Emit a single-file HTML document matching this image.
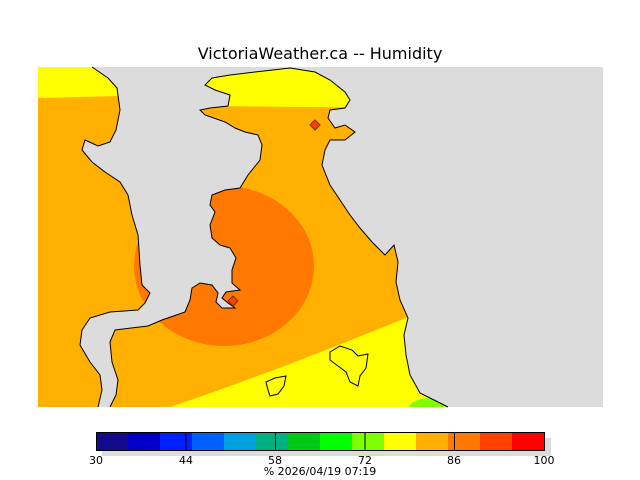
<!DOCTYPE html>
<html><head><style>
html,body{margin:0;padding:0;background:#fff;}
svg{display:block;font-family:"DejaVu Sans","Liberation Sans",sans-serif;}
</style></head><body>
<svg width="640" height="480" viewBox="0 0 640 480">
<defs>
<clipPath id="land">
<polygon id="w" points="38,67 92,67 108,78 117,88 120,110 116,130 110,142 98,146 85,140 82,150 92,162 105,172 120,182 128,195 132,215 138,235 140,265 142,285 150,293 145,303 138,310 110,312 90,318 82,330 80,345 90,362 100,375 102,390 98,407 38,407"/>
<polygon points="110,407 116,395 118,380 112,362 110,342 115,330 148,326 162,320 185,312 190,300 192,288 200,283 212,285 218,293 216,302 222,308 235,308 228,303 222,298 226,292 240,290 232,283 232,270 236,258 230,248 220,245 212,238 210,225 215,212 210,205 212,195 225,190 240,188 248,175 260,160 262,145 258,135 245,132 235,128 225,122 205,115 200,110 210,108 228,106 230,95 215,90 205,85 212,78 230,75 255,72 290,68 315,72 330,80 340,88 345,92 350,100 345,108 330,110 328,118 335,128 345,125 355,132 345,140 330,140 325,150 322,165 330,185 340,200 350,215 360,228 372,242 385,255 394,245 398,262 396,282 400,300 408,318 404,335 406,355 410,375 420,393 448,407"/>
</clipPath>
</defs>
<text x="320" y="59" text-anchor="middle" font-size="16" fill="#000">VictoriaWeather.ca -- Humidity</text>
<rect x="38" y="67" width="565" height="340" fill="#dcdcdc"/>
<g clip-path="url(#land)">
<rect x="38" y="67" width="565" height="340" fill="#ffb000"/>
<polygon points="38,67 420,67 420,108 200,106 120,96 38,98" fill="#ffff00"/>
<ellipse cx="224" cy="266" rx="90" ry="80" fill="#ff7800"/>
<path d="M170,407 Q280,370 420,312 L460,312 L460,407 Z" fill="#ffff00"/>
<ellipse cx="430" cy="410" rx="22" ry="12" fill="#80ff00"/>
</g>
<g fill="none" stroke="#000" stroke-width="1">
<polyline points="92,67 108,78 117,88 120,110 116,130 110,142 98,146 85,140 82,150 92,162 105,172 120,182 128,195 132,215 138,235 140,265 142,285 150,293 145,303 138,310 110,312 90,318 82,330 80,345 90,362 100,375 102,390 98,407"/>
<polyline points="110,407 116,395 118,380 112,362 110,342 115,330 148,326 162,320 185,312 190,300 192,288 200,283 212,285 218,293 216,302 222,308 235,308 228,303 222,298 226,292 240,290 232,283 232,270 236,258 230,248 220,245 212,238 210,225 215,212 210,205 212,195 225,190 240,188 248,175 260,160 262,145 258,135 245,132 235,128 225,122 205,115 200,110 210,108 228,106 230,95 215,90 205,85 212,78 230,75 255,72 290,68 315,72 330,80 340,88 345,92 350,100 345,108 330,110 328,118 335,128 345,125 355,132 345,140 330,140 325,150 322,165 330,185 340,200 350,215 360,228 372,242 385,255 394,245 398,262 396,282 400,300 408,318 404,335 406,355 410,375 420,393 448,407"/>
<polygon points="330,352 340,346 352,350 358,356 368,354 366,368 360,376 358,386 350,382 346,372 338,366 330,360" fill="#ffff00"/>
<polygon points="266,382 275,378 286,376 284,386 278,394 270,396 268,390" fill="#ffff00"/>
</g>
<polygon points="315,120 320,125 315,130 310,125" fill="#ff4000" stroke="#803000"/>
<polygon points="233,296 238,301 233,306 228,301" fill="#ff4000" stroke="#803000"/>
<rect x="102" y="438" width="449" height="18" fill="#dcdcdc"/>
<g>
<rect x="96" y="432" width="32" height="18" fill="#140a8c"/>
<rect x="128" y="432" width="32" height="18" fill="#0000c8"/>
<rect x="160" y="432" width="32" height="18" fill="#0020ff"/>
<rect x="192" y="432" width="32" height="18" fill="#0060ff"/>
<rect x="224" y="432" width="32" height="18" fill="#00a0e0"/>
<rect x="256" y="432" width="32" height="18" fill="#00b080"/>
<rect x="288" y="432" width="32" height="18" fill="#00c818"/>
<rect x="320" y="432" width="32" height="18" fill="#00ff00"/>
<rect x="352" y="432" width="32" height="18" fill="#80ff00"/>
<rect x="384" y="432" width="32" height="18" fill="#ffff00"/>
<rect x="416" y="432" width="32" height="18" fill="#ffb000"/>
<rect x="448" y="432" width="32" height="18" fill="#ff7800"/>
<rect x="480" y="432" width="32" height="18" fill="#ff4000"/>
<rect x="512" y="432" width="32" height="18" fill="#ff0000"/>
</g>
<rect x="96.5" y="432.5" width="448" height="18" fill="none" stroke="#000"/>
<g stroke="#000"><line x1="186" y1="432" x2="186" y2="450"/><line x1="275.5" y1="432" x2="275.5" y2="450"/><line x1="365" y1="432" x2="365" y2="450"/><line x1="454.5" y1="432" x2="454.5" y2="450"/></g>
<g font-size="11" text-anchor="middle" fill="#000">
<text x="96" y="464">30</text><text x="186" y="464">44</text><text x="275" y="464">58</text><text x="365" y="464">72</text><text x="454" y="464">86</text><text x="544" y="464">100</text>
<text x="320" y="475">%  2026/04/19 07:19</text>
</g>
</svg>
</body></html>
